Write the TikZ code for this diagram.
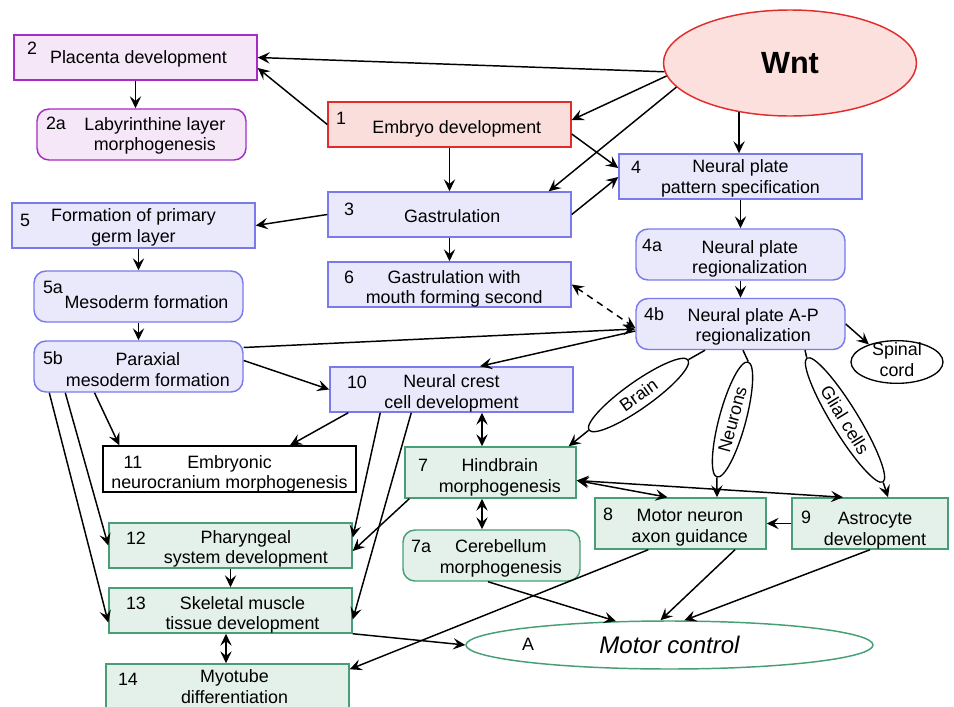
\documentclass[tikz,border=0pt]{standalone}
\usepackage{fontspec}
\setmainfont{Liberation Sans}
\usepackage{tikz}
\usetikzlibrary{arrows.meta,positioning,calc,shapes.geometric}
\definecolor{wntred}{RGB}{226,44,44}
\definecolor{wntfill}{RGB}{251,224,222}
\definecolor{embryofill}{RGB}{250,222,220}
\definecolor{placentaline}{RGB}{166,44,196}
\definecolor{placentafill}{RGB}{245,231,248}
\definecolor{plateline}{RGB}{122,122,236}
\definecolor{platefill}{RGB}{233,233,251}
\definecolor{motorline}{RGB}{72,158,118}
\definecolor{motorfill}{RGB}{227,241,234}
% text pushed right (#1) and down (#2) inside its box
\newcommand{\padtext}[3]{\raisebox{-#2}[\height][\depth]{\begin{tabular}{@{\hspace{#1}}c@{}}#3\end{tabular}}}

\tikzset{
  txt/.style={font=\fontsize{13.4}{15.5}\selectfont, align=center, inner sep=1pt},
  gobox/.style={txt, draw, line width=1.1pt, minimum width=182.25pt, minimum height=33.75pt},
  roundbox/.style={gobox, rounded corners=9pt, minimum width=156.75pt, minimum height=38.25pt},
  purplebox/.style={draw=placentaline, fill=placentafill},
  redbox/.style={draw=wntred, fill=embryofill},
  bluebox/.style={draw=plateline, fill=platefill},
  greenbox/.style={draw=motorline, fill=motorfill},
  numlbl/.style={txt},
  tagoval/.style={txt, draw, ellipse, line width=1pt, inner sep=0.5pt, minimum height=20pt},
  flow/.style={line width=1.1pt, -{Stealth[length=9pt,width=8.5pt,inset=3.5pt]}},
  flowboth/.style={line width=1.1pt, {Stealth[length=9pt,width=8.5pt,inset=3.5pt]}-{Stealth[length=9pt,width=8.5pt,inset=3.5pt]}},
  bareline/.style={line width=1.1pt}
}

\begin{document}
\begin{tikzpicture}[x=0.75pt, y=-0.75pt]
  \useasboundingbox (0,0) rectangle (954,707);
  \clip (0,0) rectangle (954,707);

  % top: Wnt and the embryo branch
  \node[txt, ellipse, draw=wntred, fill=wntfill, line width=1.1pt, minimum width=189.75pt, minimum height=79.5pt, font=\fontsize{23}{26}\selectfont\bfseries] (wnt) at (790,63) {Wnt};
  \node[gobox, purplebox] (b2) at (135.5,57.5) {\padtext{4.5pt}{1.5pt}{Placenta development}};
  \node[roundbox, purplebox] (b2a) at (141.5,134.5) {\padtext{20pt}{1.5pt}{Labyrinthine layer\\morphogenesis}};
  \node[gobox, redbox] (b1) at (449.5,124.5) {\padtext{11pt}{3.75pt}{Embryo development}};
  \node[gobox, bluebox] (b3) at (449.5,214.5) {\padtext{4pt}{3pt}{Gastrulation}};
  \node[gobox, bluebox] (b6) at (449.5,284.5) {\padtext{7pt}{3.75pt}{Gastrulation with\\mouth forming second}};
  \node[gobox, bluebox] (b4) at (740.5,176.5) {\padtext{0pt}{2pt}{Neural plate\\pattern specification}};
  \node[roundbox, bluebox] (b4a) at (740.5,254.5) {\padtext{14pt}{3.75pt}{Neural plate\\regionalization}};
  \node[roundbox, bluebox] (b4b) at (740.5,324) {\padtext{19pt}{2.6pt}{Neural plate A-P\\regionalization}};
  \node[gobox, bluebox] (b5) at (133.5,225.5) {\padtext{0pt}{2pt}{Formation of primary\\germ layer}};
  \node[roundbox, bluebox] (b5a) at (138.5,296.5) {\padtext{12pt}{6pt}{Mesoderm formation}};
  \node[roundbox, bluebox] (b5b) at (138.5,366.5) {\padtext{14pt}{4pt}{Paraxial\\mesoderm formation}};
  \node[gobox, bluebox] (b10) at (451.5,389.5) {\padtext{0pt}{3.4pt}{Neural crest\\cell development}};
  \node[gobox, draw=black, fill=white, minimum width=189.75pt, minimum height=34.5pt] (b11) at (229.5,469) {\padtext{0pt}{4pt}{Embryonic\\neurocranium morphogenesis}};

  % motor part
  \node[gobox, greenbox, minimum width=128.25pt, minimum height=38.25pt] (b7) at (490.5,472.5) {\padtext{14pt}{4pt}{Hindbrain\\morphogenesis}};
  \node[roundbox, greenbox, minimum width=132.75pt, minimum height=38.25pt] (b7a) at (491.5,555.5) {\padtext{14pt}{2.6pt}{Cerebellum\\morphogenesis}};
  \node[gobox, greenbox, minimum width=128.25pt, minimum height=38.25pt] (b8) at (680.5,523.5) {\padtext{14pt}{3.4pt}{Motor neuron\\axon guidance}};
  \node[gobox, greenbox, minimum width=117pt, minimum height=38.25pt] (b9) at (870,523.5) {\padtext{7.5pt}{5.6pt}{Astrocyte\\development}};
  \node[gobox, greenbox] (b12) at (230.5,545.5) {\padtext{23pt}{3pt}{Pharyngeal\\system development}};
  \node[gobox, greenbox] (b13) at (230.5,610.5) {\padtext{18pt}{3.75pt}{Skeletal muscle\\tissue development}};
  \node[gobox, greenbox, minimum height=36pt] (b14) at (227.5,688) {\padtext{10.5pt}{0.5pt}{Myotube\\differentiation}};
  \node[txt, ellipse, draw=motorline, fill=white, line width=1.1pt, inner sep=0pt, minimum width=305.25pt, minimum height=36pt, font=\fontsize{18}{20}\selectfont\itshape] (mc) at (669.5,645) {Motor control};

  % tags under 4b
  \node[tagoval, minimum width=69pt, minimum height=32pt] (spinal) at (897,362) {\raisebox{0pt}[6.7pt][0pt]{\begin{tabular}{@{}c@{}}Spinal\\cord\end{tabular}}};
  \node[tagoval, rotate=35.3, minimum width=91pt] (brain) at (638.5,395) {Brain};
  \node[tagoval, rotate=74.9, minimum width=89.3pt] (neurons) at (732.5,419.5) {Neurons};
  \node[tagoval, rotate=-58.5, minimum width=109pt] (glial) at (845,420) {Glial cells};

  % numbers
  \node[numlbl] (n2) at (32,48) {2};
  \node[numlbl] (n2a) at (56,123) {2a};
  \node[numlbl] (n1) at (341,118) {1};
  \node[numlbl] (n3) at (349,209) {3};
  \node[numlbl] (n6) at (349,277) {6};
  \node[numlbl] (n4) at (636,167) {4};
  \node[numlbl] (n4a) at (652,245) {4a};
  \node[numlbl] (n4b) at (654,314) {4b};
  \node[numlbl] (n5) at (25,220) {5};
  \node[numlbl] (n5a) at (53,287) {5a};
  \node[numlbl] (n5b) at (53,358) {5b};
  \node[numlbl] (n10) at (357,382) {10};
  \node[numlbl] (n11) at (133,462) {11};
  \node[numlbl] (n7) at (423,465) {7};
  \node[numlbl] (n7a) at (421,546) {7a};
  \node[numlbl] (n8) at (608,514) {8};
  \node[numlbl] (n9) at (806,517) {9};
  \node[numlbl] (n12) at (136,538) {12};
  \node[numlbl] (n13) at (136,603) {13};
  \node[numlbl] (n14) at (128,679) {14};
  \node[numlbl] (nA) at (528,644) {A};

  % connectors
  \draw[flow] (wnt.184) -- (b2.east);
  \draw[flow] (b1.west) -- ($(b2.east)+(0,10.5)$);
  \draw[flow] (b2.south) -- (b2.south |- b2a.north);
  \draw[flow] (wnt.186) -- ($(b1.east)+(0,-4.5)$);
  \draw[flow] (wnt.192) -- ($(b3.north east)+(-23,0)$);
  \draw[flow] (wnt.224) -- (wnt.224 |- b4.north);
  \draw[flow] ($(b1.east)+(0,9.5)$) -- ($(b4.west)+(0,-8.5)$);
  \draw[flow] (b3.east) -- ($(b4.west)+(0,0.5)$);
  \draw[flow] (b1.south) -- (b3.north);
  \draw[flow] (b3.west) -- (b5.east);
  \draw[flow] (b3.south) -- (b6.north);
  \draw[flow] (b4.south) -- (b4a.north);
  \draw[flow] (b4a.south) -- (b4b.north);
  \draw[flowboth, dash pattern=on 5pt off 4pt] (b6.east) -- ($(b4b.west)+(0,4)$);
  \draw[flow] (b5.south -| b5a.north) -- (b5a.north);
  \draw[flow] (b5a.south) -- (b5b.north);
  \draw[flow] ($(b5b.east)+(0,-19)$) -- ($(b4b.west)+(0,5)$);
  \draw[flow] ($(b4b.west)+(0,7)$) -- ($(b10.north)+(28.5,0)$);
  \draw[flow] ($(b5b.east)+(0,-6)$) -- (b10.west);
  \draw[flow] ($(b5b.south)+(-44,0)$) -- ($(b11.north west)+(17,0)$);
  \draw[flow] ($(b5b.south west)+(32,0)$) -- (b12.west);
  \draw[flow] ($(b5b.south west)+(16,0)$) -- ($(b13.west)+(0,12)$);
  \draw[flow] ($(b10.south west)+(19,0)$) -- ($(b11.north)+(60.5,0)$);
  \draw[flow] ($(b10.south west)+(51,0)$) -- ($(b12.east)+(0,-8)$);
  \draw[flow] ($(b10.south west)+(82,0)$) -- ($(b13.east)+(0,9)$);
  \draw[flow] ($(b7.south west)+(5,0)$) -- ($(b12.east)+(0,5.5)$);
  \draw[flowboth] ($(b10.south)+(30.5,0)$) -- ($(b7.north)+(-8.5,0)$);
  \draw[flowboth] ($(b7.south)+(-8.5,0)$) -- ($(b7a.north)+(-9.5,0)$);
  \draw[bareline] ($(b4b.south)+(-35.5,0)$) -- (brain.east);
  \draw[flow] (brain.west) -- ($(b7.north east)+(-8,0)$);
  \draw[bareline] ($(b4b.south)+(2.5,0)$) -- (neurons.east);
  \draw[flow] (neurons.west) -- ($(b8.north)+(36.5,0)$);
  \draw[bareline] ($(b4b.south)+(64.5,0)$) -- (glial.west);
  \draw[flow] (glial.east) -- ($(b9.north)+(18,0)$);
  \draw[flowboth] ($(b7.east)+(0,8)$) -- ($(b8.north)+(-13,0)$);
  \draw[flowboth] ($(b7.east)+(0,8)$) -- ($(b9.north)+(-27,0)$);
  \draw[flow] (b9.west) -- (b8.east);
  \draw[flow] (b4b.east) -- (spinal.148);
  \draw[flow] (b12.south) -- (b13.north);
  \draw[flowboth] ($(b13.south)+(-4.5,0)$) -- ($(b14.north)+(-1.5,0)$);
  \draw[flow] (b13.south east) -- (mc.west);
  \draw[flow] ($(b8.south west)+(54,0)$) -- ($(b14.north east)+(0,6)$);
  \draw[flow] ($(b7a.south)+(-3.5,0)$) -- (mc.156);
  \draw[flow] ($(b8.south)+(54.5,0)$) -- (mc.110);
  \draw[flow] (b9.south) -- (mc.59);
\end{tikzpicture}
\end{document}
